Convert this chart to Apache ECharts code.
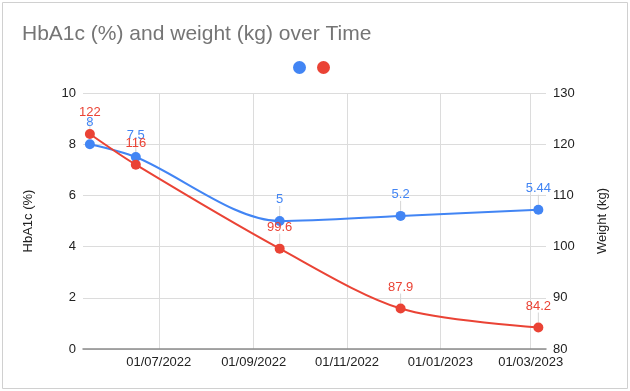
<!DOCTYPE html>
<html>
<head>
<meta charset="utf-8">
<script src="https://cdn.jsdelivr.net/npm/echarts@6/dist/echarts.min.js"></script>
<style>
html,body{margin:0;padding:0;background:#fff;}
#chart{width:630px;height:391px;}
</style>
</head>
<body>
<div id="chart"></div>
<script>
const dates = ['2022-05-17', '2022-06-16', '2022-09-18', '2022-12-06', '2023-03-06'];
const hba1c = [8, 7.5, 5, 5.2, 5.44];
const weight = [122, 116, 99.6, 87.9, 84.2];
const xTicks = ['2022-07-01', '2022-09-01', '2022-11-01', '2023-01-01', '2023-03-01'];
const leftTicks = [0, 2, 4, 6, 8, 10];
const rightTicks = [80, 90, 100, 110, 120, 130];

const FONT = 'Arial, "Liberation Sans", sans-serif';
const BLUE = '#4285F4', RED = '#EA4335';

const chart = echarts.init(document.getElementById('chart'), null, {renderer: 'canvas'});
const ts = d => new Date(d + 'T00:00:00').getTime();
const tickTs = xTicks.map(ts);
const pad2 = n => (n < 10 ? '0' : '') + n;
const fmtDate = v => { const d = new Date(v); return pad2(d.getDate()) + '/' + pad2(d.getMonth() + 1) + '/' + d.getFullYear(); };

function mkSeries(name, vals, color, yIdx) {
  return {
    name: name,
    type: 'line',
    yAxisIndex: yIdx,
    data: dates.map((d, i) => [ts(d), vals[i]]),
    smooth: 0.3,
    symbol: 'circle',
    symbolSize: 10,
    showSymbol: true,
    lineStyle: {color: color, width: 2},
    itemStyle: {color: color},
    label: {
      show: true, position: 'top', distance: 4,
      color: color, fontSize: 13, fontFamily: FONT
    },
    labelLayout: {dy: -6},
    labelLine: {show: true, lineStyle: {color: '#d6d6d6', width: 1}},
    emphasis: {disabled: true}
  };
}

chart.setOption({
  animation: false,
  backgroundColor: '#fff',
  title: {
    text: 'HbA1c (%) and weight (kg) over Time',
    left: 22, top: 24, padding: 0,
    textStyle: {color: '#757575', fontSize: 21, fontWeight: 'normal', fontFamily: FONT}
  },
  legend: {
    left: 293, top: 61, padding: 0,
    icon: 'circle', itemWidth: 13, itemHeight: 13, itemGap: 11,
    selectedMode: false,
    formatter: () => '',
    data: ['HbA1c (%)', 'Weight (kg)']
  },
  graphic: [{
    type: 'rect', silent: true,
    shape: {x: 2.5, y: 2.5, width: 625, height: 386},
    style: {fill: 'none', stroke: '#d0d0d0', lineWidth: 1}
  }],
  grid: {left: 83, right: 84, top: 93, bottom: 42, containLabel: false},
  xAxis: {
    type: 'value',
    min: new Date('2022-05-12T12:00:00').getTime(),
    max: new Date('2023-03-11T00:00:00').getTime(),
    axisLine: {show: true, lineStyle: {color: '#8a8a8a', width: 1.5}},
    axisTick: {show: false, customValues: tickTs},
    axisLabel: {
      customValues: tickTs,
      color: '#222', fontSize: 13, fontFamily: FONT, margin: 7,
      formatter: v => fmtDate(v)
    },
    splitLine: {show: true, lineStyle: {color: '#dcdcdc', width: 1}}
  },
  yAxis: [{
    type: 'value', min: leftTicks[0], max: leftTicks[leftTicks.length - 1], interval: 2,
    name: 'HbA1c (%)', nameLocation: 'middle', nameGap: 48,
    nameTextStyle: {color: '#222', fontSize: 13, fontFamily: FONT},
    axisLine: {show: false}, axisTick: {show: false},
    axisLabel: {color: '#222', fontSize: 13, fontFamily: FONT, margin: 7},
    splitLine: {show: true, lineStyle: {color: '#dcdcdc', width: 1}}
  }, {
    type: 'value', min: rightTicks[0], max: rightTicks[rightTicks.length - 1], interval: 10,
    name: 'Weight (kg)', nameLocation: 'middle', nameGap: 50,
    nameTextStyle: {color: '#222', fontSize: 13, fontFamily: FONT},
    axisLine: {show: false}, axisTick: {show: false},
    axisLabel: {color: '#222', fontSize: 13, fontFamily: FONT, margin: 7},
    splitLine: {show: false}
  }],
  series: [
    mkSeries('HbA1c (%)', hba1c, BLUE, 0),
    mkSeries('Weight (kg)', weight, RED, 1)
  ]
});
</script>
</body>
</html>
